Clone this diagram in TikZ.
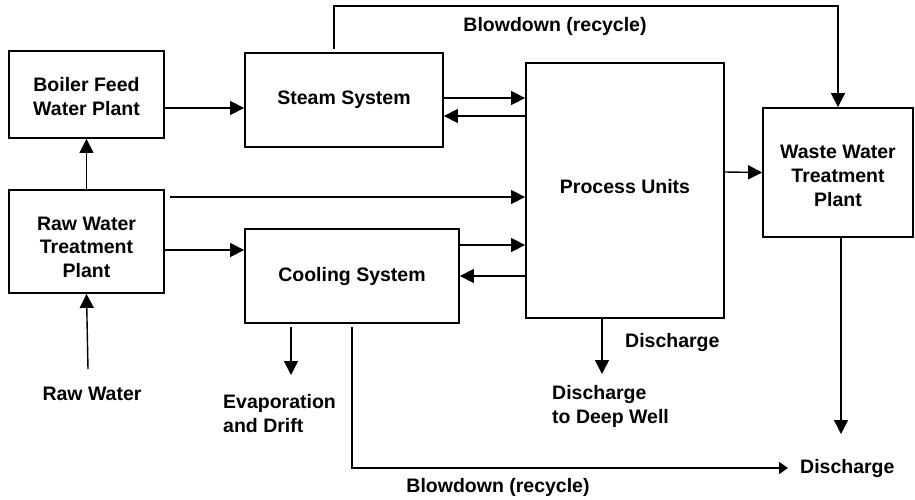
\documentclass[tikz,border=0pt]{standalone}
\usepackage{fontspec}
\setmainfont{Liberation Sans}
\usetikzlibrary{arrows.meta}
\newcommand{\padtop}[1]{\rule{0pt}{#1}}
\newcommand{\padbot}[1]{\rule[-#1]{0pt}{#1}}
\begin{document}
\begin{tikzpicture}[x=1pt,y=-1pt,
  lbl/.style={font=\bfseries\fontsize{19.5}{23.8}\selectfont, inner sep=0pt},
  box/.style={draw, line width=1.8pt, lbl, align=center},
  arr/.style={line width=1.4pt, -{Triangle[length=14pt,width=14pt]}},
  smallarr/.style={line width=1.4pt, -{Triangle[length=9pt,width=12pt]}}]
\useasboundingbox (0,0) rectangle (915,499);
% boxes
\node[box, minimum width=155pt, minimum height=87pt] (bfw) at (86.5,94.5) {\padtop{18pt}Boiler Feed\\Water Plant};
\node[box, minimum width=198pt, minimum height=94pt] (steam) at (344,100) {Steam System};
\node[box, minimum width=155pt, minimum height=103pt] (raw) at (86.5,241.5) {\padtop{25pt}Raw Water\\Treatment\\Plant};
\node[box, minimum width=214pt, minimum height=94pt] (cool) at (352,276) {Cooling System};
\node[box, minimum width=198pt, minimum height=255pt] (proc) at (625,190.5) {Process Units\padbot{8pt}};
\node[box, minimum width=150pt, minimum height=129pt] (waste) at (838,172.5) {\padtop{20pt}Waste Water\\Treatment\\Plant};
% labels
\node[lbl, anchor=base] (bdtop) at (555,31) {Blowdown (recycle)};
\node[lbl, anchor=base] (bdbot) at (498,492) {Blowdown (recycle)};
\node[lbl, anchor=base] (rawlbl) at (92,400) {Raw Water};
\node[lbl, anchor=north west, align=left] (evap) at (223,394) {Evaporation\\and Drift};
\node[lbl, anchor=base west] (dis1) at (625,347) {Discharge};
\node[lbl, anchor=north west, align=left] (deep) at (552,385) {Discharge\\to Deep Well};
\node[lbl, anchor=base west] (dis2) at (800,473) {Discharge};
% free ends
\coordinate (rawsrc) at (88,369);
\coordinate (evapend) at (291,375);
\coordinate (deepend) at (602,374);
\coordinate (wasteend) at (841,434);
\coordinate (bdend) at (788,468);
% connectors
\draw[arr] ([yshift=-13.5pt]bfw.east) -- ([yshift=-8pt]steam.west);
\draw[arr] (raw.north) -- (bfw.south);
\draw[arr] ([yshift=2pt]steam.east) -- ([yshift=92.5pt]proc.west);
\draw[arr] ([yshift=74.5pt]proc.west) -- ([yshift=-16pt]steam.east);
\draw[arr] ([xshift=5pt,yshift=44.5pt]raw.east) -- ([yshift=-6.5pt]proc.west);
\draw[arr] ([yshift=-8.5pt]raw.east) -- ([yshift=26pt]cool.west);
\draw[arr] ([yshift=31pt]cool.east) -- ([yshift=-54.5pt]proc.west);
\draw[arr] ([yshift=-85.5pt]proc.west) -- (cool.east);
\draw[arr] ([yshift=18.5pt]proc.east) -- (waste.west);
\draw[arr] ([xshift=-10pt,yshift=3pt]steam.north) -- ++(0,-43) -| (waste.north);
\draw[arr] (rawsrc) -- (raw.south);
\draw[arr] ([xshift=-61pt,yshift=-3pt]cool.south) -- (evapend);
\draw[smallarr] ([yshift=-3pt]cool.south) |- (bdend);
\draw[arr] ([xshift=-23pt]proc.south) -- (deepend);
\draw[arr] ([xshift=3pt]waste.south) -- (wasteend);
\end{tikzpicture}
\end{document}
